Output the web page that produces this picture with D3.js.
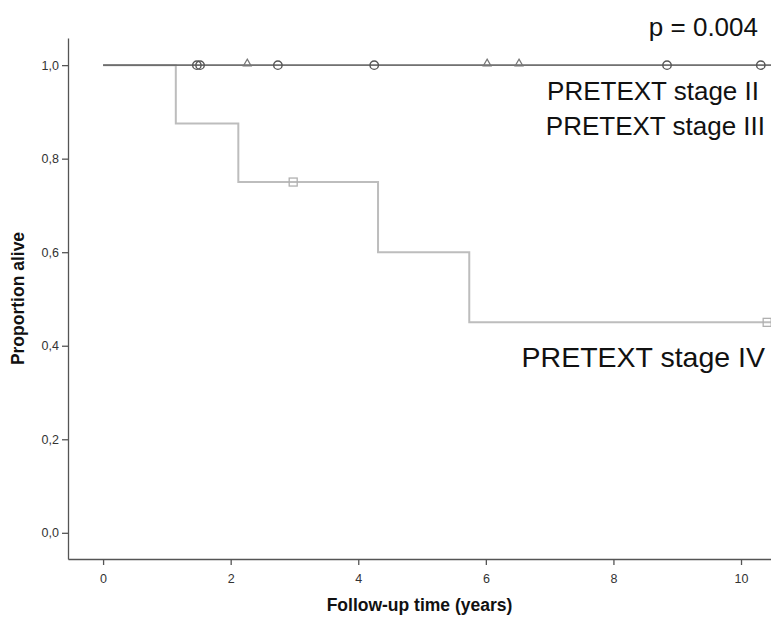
<!DOCTYPE html>
<html>
<head>
<meta charset="utf-8">
<script src="https://cdn.jsdelivr.net/npm/d3@7"></script>
<style>
  html, body { margin: 0; padding: 0; background: #fff; }
  svg { display: block; font-family: "Liberation Sans", Arial, sans-serif; }
</style>
</head>
<body>
<svg id="chart" width="771" height="617"></svg>
<script>
// Kaplan–Meier survival by PRETEXT stage
const xTicks = [0, 2, 4, 6, 8, 10];
const yTicks = [0, 0.2, 0.4, 0.6, 0.8, 1.0];

// Stage II: no events, censored follow-up times (years)
const stage2Steps = [[0, 1.0]];
const stage2Censored = [1.47, 1.52, 2.74, 4.25, 8.84, 10.31];

// Stage III: no events, censored follow-up times (years)
const stage3Steps = [[0, 1.0]];
const stage3Censored = [2.26, 6.02, 6.52];

// Stage IV: event times with survival after each step
const stage4Steps = [[0, 1.0], [1.14, 0.875], [2.12, 0.75], [4.31, 0.6], [5.74, 0.45]];
const stage4Censored = [[2.98, 0.75], [10.41, 0.45]];

const curveLabels = ["PRETEXT stage II", "PRETEXT stage III", "PRETEXT stage IV"];
const pValueText = "p = 0.004";

const svg = d3.select("#chart");
const plotL = 68, plotR = 771, plotT = 38, plotB = 559;

const x = d3.scaleLinear().domain([-0.55, 10.47]).range([plotL, plotR]);
const y = d3.scaleLinear().domain([-0.056, 1.058]).range([plotB, plotT]);

// axes
const xAxis = svg.append("g")
  .attr("transform", `translate(0,${plotB})`)
  .call(d3.axisBottom(x).tickValues(xTicks).tickSize(6).tickSizeOuter(0).tickFormat(d3.format("d")));
const yAxis = svg.append("g")
  .attr("transform", `translate(${plotL},0)`)
  .call(d3.axisLeft(y).tickValues(yTicks).tickSize(6).tickSizeOuter(0)
        .tickFormat(d => d3.format(".1f")(d).replace(".", ",")));
[xAxis, yAxis].forEach(g => {
  g.select(".domain").attr("stroke", "#555").attr("stroke-width", 1.3);
  g.selectAll(".tick line").attr("stroke", "#555").attr("stroke-width", 1.3);
  g.selectAll(".tick text").attr("fill", "#333").attr("font-size", 12.5)
    .attr("font-family", "'Liberation Sans', Arial, sans-serif");
});
xAxis.selectAll(".tick text").attr("dy", "1.2em");

svg.append("text")
  .attr("x", (plotL + plotR) / 2).attr("y", 611)
  .attr("text-anchor", "middle").attr("font-weight", "bold").attr("font-size", 17.5)
  .attr("fill", "#111").text("Follow-up time (years)");
svg.append("text")
  .attr("transform", `translate(24,${(plotT + plotB) / 2}) rotate(-90)`)
  .attr("text-anchor", "middle").attr("font-weight", "bold").attr("font-size", 17.5)
  .attr("fill", "#111").text("Proportion alive");

// step path running to the right end of the time axis
function stepLine(steps) {
  const pts = [];
  steps.forEach((s, i) => {
    if (i > 0) pts.push([s[0], steps[i - 1][1]]);
    pts.push(s);
  });
  pts.push([x.domain()[1], steps[steps.length - 1][1]]);
  return d3.line().x(d => x(d[0])).y(d => y(d[1]))(pts);
}

const plot = svg.append("g");
plot.append("path").attr("d", stepLine(stage4Steps))
  .attr("fill", "none").attr("stroke", "#bdbdbd").attr("stroke-width", 2);
plot.append("path").attr("d", stepLine(stage3Steps))
  .attr("fill", "none").attr("stroke", "#777").attr("stroke-width", 1.2);
plot.append("path").attr("d", stepLine(stage2Steps))
  .attr("fill", "none").attr("stroke", "#666").attr("stroke-width", 1.2);

// censor marks
plot.selectAll(".tri").data(stage3Censored).join("path")
  .attr("transform", d => `translate(${x(d)},${y(stage3Steps[0][1]) - 1.5})`)
  .attr("d", d3.symbol().type(d3.symbolTriangle).size(26))
  .attr("fill", "none").attr("stroke", "#777").attr("stroke-width", 1.2);
plot.selectAll(".circ").data(stage2Censored).join("circle")
  .attr("cx", d => x(d)).attr("cy", y(stage2Steps[0][1])).attr("r", 4.2)
  .attr("fill", "none").attr("stroke", "#555").attr("stroke-width", 1.4);
plot.selectAll(".sq").data(stage4Censored).join("rect")
  .attr("x", d => x(d[0]) - 4).attr("y", d => y(d[1]) - 4)
  .attr("width", 8).attr("height", 8)
  .attr("fill", "none").attr("stroke", "#b0b0b0").attr("stroke-width", 1.3);

// curve labels and log-rank p value
const lab = svg.append("g").attr("text-anchor", "end").attr("fill", "#111");
lab.append("text").attr("x", 759).attr("y", 100).attr("font-size", 26).text(curveLabels[0]);
lab.append("text").attr("x", 765).attr("y", 135).attr("font-size", 26).text(curveLabels[1]);
lab.append("text").attr("x", 765).attr("y", 367).attr("font-size", 28.5).text(curveLabels[2]);
lab.append("text").attr("x", 758).attr("y", 36).attr("font-size", 26).text(pValueText);
</script>
</body>
</html>
